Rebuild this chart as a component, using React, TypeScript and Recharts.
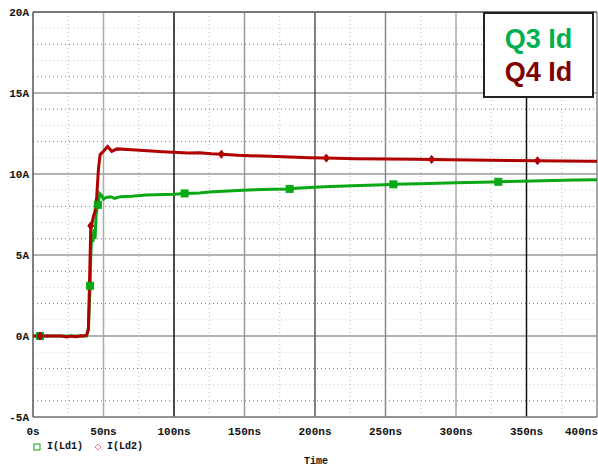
import { LineChart, Line, XAxis, YAxis, CartesianGrid, ReferenceLine } from 'recharts'

// time in ns, current in A
const q3Times = [0, 5, 20, 30, 38, 39.3, 40.5, 41, 41.7, 42.5, 43.3, 44, 44.8, 45.5, 46, 47.3, 48.5, 50, 52, 55, 58, 62, 70, 80, 100, 107.5, 118, 125, 138, 153, 170, 182, 186.5, 206.5, 226.5, 249, 255.6, 274, 300, 326, 330, 354, 385, 400]
const q3Values = [0, 0, 0, 0, 0, 0.5, 3.1, 5.0, 6.3, 5.8, 6.6, 6.0, 7.5, 7.9, 8.1, 8.8, 8.7, 8.45, 8.55, 8.6, 8.5, 8.6, 8.62, 8.7, 8.75, 8.8, 8.83, 8.89, 8.95, 9.01, 9.06, 9.08, 9.12, 9.22, 9.28, 9.34, 9.36, 9.40, 9.46, 9.51, 9.52, 9.57, 9.63, 9.64]
const q3Marks = [5, 40.5, 46, 107.5, 182, 255.6, 330]

const q4Times = [0, 5, 20, 24, 27, 30, 34, 36, 38, 39.3, 40, 41, 41.7, 42.9, 44, 45.2, 46.4, 47.6, 50, 52.9, 55.9, 59.5, 70, 92, 110, 118, 126.5, 133.6, 145.4, 167.8, 196, 208, 229, 271.6, 282.7, 323.5, 357.8, 394, 400]
const q4Values = [0, 0, 0, -0.06, 0, -0.04, 0.02, 0, 0.05, 0.4, 3.0, 6.8, 6.9, 7.4, 7.7, 8.6, 10.3, 11.2, 11.4, 11.7, 11.4, 11.55, 11.5, 11.38, 11.3, 11.31, 11.25, 11.22, 11.15, 11.09, 11.0, 10.98, 10.94, 10.91, 10.9, 10.85, 10.82, 10.78, 10.78]
const q4Marks = [5, 41, 133.6, 208, 282.7, 357.8]

const timeTicks = [0, 50, 100, 150, 200, 250, 300, 350, 400]
const timeLabels = ['0s', '50ns', '100ns', '150ns', '200ns', '250ns', '300ns', '350ns', '400ns']
const ampTicks = [-5, 0, 5, 10, 15, 20]
const ampLabels = ['-5A', '0A', '5A', '10A', '15A', '20A']

const minorAmps = [-4, -3, -2, -1, 1, 2, 3, 4, 6, 7, 8, 9, 11, 12, 13, 14, 16, 17, 18, 19]
const minorTimes = [25, 75, 125, 175, 225, 275, 325, 375]
const majorTimeColors: Record<number, string> = { 50: '#aaa', 100: '#111', 150: '#999', 200: '#555', 250: '#888', 300: '#aaa', 350: '#111' }

const GREEN = '#0aa814'
const RED = '#b00000'
const tickFont = { fontFamily: '"Liberation Mono", monospace', fontWeight: 'bold' as const, fontSize: 11, fill: '#111' }

const q3Data = q3Times.map((t, i) => ({ t, v: q3Values[i] }))
const q4Data = q4Times.map((t, i) => ({ t, v: q4Values[i] }))

const SquareDot = (props: any) => {
  const { cx, cy, payload, index } = props
  if (!q3Marks.includes(payload.t)) return <g key={index} />
  return <rect key={index} x={cx - 3.5} y={cy - 3.5} width={7} height={7} fill={GREEN} stroke={GREEN} />
}

const DiamondDot = (props: any) => {
  const { cx, cy, payload, index } = props
  if (!q4Marks.includes(payload.t)) return <g key={index} />
  return <path key={index} d={`M${cx},${cy - 4}L${cx + 3},${cy}L${cx},${cy + 4}L${cx - 3},${cy}Z`} fill={RED} stroke={RED} />
}

const XTick = ({ x, y, payload }: any) => {
  const i = timeTicks.indexOf(payload.value)
  const last = i === timeTicks.length - 1
  return (
    <text x={last ? 598 : x} y={y + 10} textAnchor={last ? 'end' : 'middle'} {...tickFont}>
      {timeLabels[i]}
    </text>
  )
}

const YTick = ({ y, payload }: any) => {
  const i = ampTicks.indexOf(payload.value)
  return (
    <text x={29} y={y + 4} textAnchor="end" {...tickFont}>
      {ampLabels[i]}
    </text>
  )
}

const App = () => {
  return (
    <div style={{ position: 'absolute', left: 0, top: 0, width: 598, height: 468, background: '#fff' }}>
      <LineChart width={598} height={468} margin={{ top: 12, right: 1, left: 0, bottom: 0 }}>
        <CartesianGrid vertical={false} stroke="#999" strokeWidth={1.5} />
        <XAxis
          type="number"
          dataKey="t"
          domain={[0, 400]}
          ticks={timeTicks}
          height={51}
          tick={<XTick />}
          tickLine={false}
          axisLine={{ stroke: '#888', strokeWidth: 1.5 }}
          allowDataOverflow
        />
        <YAxis
          type="number"
          domain={[-5, 20]}
          ticks={ampTicks}
          width={33}
          tick={<YTick />}
          tickLine={false}
          axisLine={{ stroke: '#555', strokeWidth: 1.5 }}
          allowDataOverflow
        />
        {minorAmps.map((a) => (
          <ReferenceLine key={'h' + a} y={a} stroke={a % 2 === 0 ? '#777' : '#ccc'} strokeDasharray="1 3" />
        ))}
        {minorTimes.map((t) => (
          <ReferenceLine key={'v' + t} x={t} stroke="#bbb" strokeDasharray="1 3" />
        ))}
        {timeTicks.slice(1, -1).map((t) => (
          <ReferenceLine key={'m' + t} x={t} stroke={majorTimeColors[t]} strokeWidth={1.5} />
        ))}
        <ReferenceLine y={20} stroke="#666" strokeWidth={1.5} />
        <ReferenceLine x={400} stroke="#888" strokeWidth={1.5} />
        <Line
          data={q3Data}
          dataKey="v"
          type="linear"
          stroke={GREEN}
          strokeWidth={3}
          dot={SquareDot}
          activeDot={false}
          isAnimationActive={false}
        />
        <Line
          data={q4Data}
          dataKey="v"
          type="linear"
          stroke={RED}
          strokeWidth={3}
          dot={DiamondDot}
          activeDot={false}
          isAnimationActive={false}
        />
      </LineChart>

      {/* label box */}
      <div
        style={{
          position: 'absolute',
          left: 483,
          top: 12,
          width: 111,
          height: 86,
          border: '2px solid #222',
          background: '#fff',
          fontFamily: '"Liberation Sans", Arial, sans-serif',
          fontWeight: 'bold',
          fontSize: 27,
          textAlign: 'center',
          lineHeight: '33px',
          paddingTop: 9,
          boxSizing: 'border-box',
        }}
      >
        <div style={{ color: '#00b050' }}>Q3 Id</div>
        <div style={{ color: '#800000' }}>Q4 Id</div>
      </div>

      {/* legend */}
      <div
        style={{
          position: 'absolute',
          left: 33,
          top: 441,
          display: 'flex',
          alignItems: 'center',
          fontFamily: '"Liberation Mono", monospace',
          fontWeight: 'bold',
          fontSize: 10,
          color: '#111',
        }}
      >
        <svg width={8} height={8} style={{ marginRight: 6 }}>
          <rect x={1} y={1} width={6} height={6} fill="none" stroke={GREEN} />
        </svg>
        <span>I(Ld1)</span>
        <svg width={8} height={8} style={{ marginLeft: 11, marginRight: 5 }}>
          <path d="M4,1L7,4L4,7L1,4Z" fill="none" stroke="#e08080" />
        </svg>
        <span>I(Ld2)</span>
      </div>
      <div
        style={{
          position: 'absolute',
          left: 304,
          top: 456,
          fontFamily: '"Liberation Mono", monospace',
          fontWeight: 'bold',
          fontSize: 10,
          color: '#111',
        }}
      >
        Time
      </div>
    </div>
  )
}

export default App
